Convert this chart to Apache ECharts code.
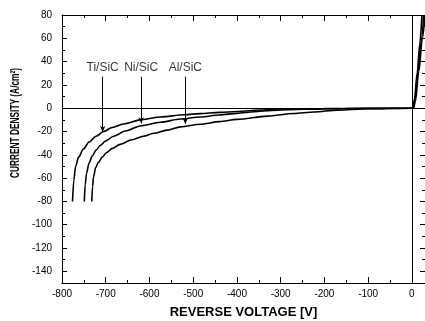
<!DOCTYPE html>
<html>
<head>
<meta charset="utf-8">
<script src="https://cdn.jsdelivr.net/npm/echarts@6/dist/echarts.min.js"></script>
<style>
  html, body { margin: 0; padding: 0; background: #fff; }
  #chart { width: 425px; height: 321px; }
</style>
</head>
<body>
<div id="chart"></div>
<script>
const FONT = '"Liberation Sans", Arial, sans-serif'

// reverse + forward branches, [voltage, current density]
const tiSiC = [
  [-776, -80], [-773, -62], [-769, -50], [-762, -42], [-751, -35], [-738, -29],
  [-722, -24], [-705, -20], [-685, -16.5], [-660, -13.5], [-617, -9.8], [-575, -7.5],
  [-520, -5.6], [-484, -4.6], [-440, -3.6], [-400, -2.8], [-346, -1.5], [-300, -0.7],
  [-200, -0.3], [-100, -0.1], [0, 0], [3, 0.5], [6, 8], [12, 30], [18, 55], [23, 80]
]
const niSiC = [
  [-749, -80], [-747, -66], [-744, -56], [-738, -47], [-731, -41], [-722, -36],
  [-713, -32], [-700, -28], [-682, -24], [-655, -19.5], [-619, -15], [-575, -12],
  [-529, -9.3], [-484, -7.5], [-440, -5.8], [-400, -4.4], [-360, -3], [-320, -1.9],
  [-250, -0.8], [-150, -0.3], [0, 0], [3, 0.3], [7, 8], [14, 32], [21, 57], [27, 80]
]
const alSiC = [
  [-732, -80], [-730, -67], [-728, -59], [-723, -51], [-717, -46.5], [-708, -42],
  [-698, -38], [-685, -34.5], [-667, -31], [-640, -27], [-614, -24], [-590, -21.5],
  [-560, -18.8], [-529, -16], [-484, -13.8], [-440, -11.5], [-400, -9.6], [-330, -6.8],
  [-270, -4.5], [-224, -3.2], [-170, -1.6], [-100, -0.5], [0, 0], [4, 0.3], [8, 6],
  [16, 32], [24, 60], [30, 80]
]

const seriesNames = ['Ti/SiC', 'Ni/SiC', 'Al/SiC']
const seriesData = [tiSiC, niSiC, alSiC]

// label anchor voltage, arrow start / tip current density
const labelX = [-707, -619, -518]
const labelY = 35
const arrowFromY = 27
const arrowToY = [-20.5, -13, -13.5]

// major tick positions
const xMajor = [-800, -700, -600, -500, -400, -300, -200, -100, 0]
const yMajor = [-140, -120, -100, -80, -60, -40, -20, 0, 20, 40, 60, 80]

const xTitle = 'REVERSE VOLTAGE [V]'
const yTitle = 'CURRENT DENSITY (A/cm²)'

const chart = echarts.init(document.getElementById('chart'))

const lineSeries = seriesData.map((d, i) => ({
  name: seriesNames[i],
  type: 'line',
  data: d,
  showSymbol: false,
  smooth: 0.3,
  smoothMonotone: 'x',
  lineStyle: { color: '#000', width: 1.6 },
  z: 3
}))

const labelSeries = {
  type: 'scatter',
  symbolSize: 0,
  data: labelX.map((x, i) => ({ value: [x, labelY], name: seriesNames[i] })),
  label: {
    show: true,
    position: 'inside',
    formatter: p => p.name,
    color: '#000',
    fontFamily: FONT,
    fontSize: 12
  },
  silent: true,
  markLine: {
    silent: true,
    symbol: ['none', 'arrow'],
    symbolSize: [4, 6],
    label: { show: false },
    lineStyle: { color: '#000', width: 1, type: 'solid' },
    data: labelX.map((x, i) => [
      { coord: [x, arrowFromY] },
      { coord: [x, arrowToY[i]] }
    ])
  }
}

const zeroLines = {
  type: 'line',
  data: [],
  markLine: {
    silent: true,
    symbol: 'none',
    label: { show: false },
    lineStyle: { color: '#000', width: 1, type: 'solid' },
    data: [{ xAxis: 0 }, { yAxis: 0 }]
  }
}

const tickLabel = { color: '#000', fontFamily: FONT, fontSize: 10 }
const axisLine = { show: true, onZero: false, lineStyle: { color: '#000', width: 1 } }

// minor-tick axis (with line) and a major-tick overlay on the same side
function xAxisPair(position, withLabels) {
  return [
    {
      type: 'value', min: -800, max: 30, interval: 50, position,
      axisLine,
      axisTick: { inside: true, length: 3, lineStyle: { color: '#000' } },
      axisLabel: withLabels
        ? Object.assign({ margin: 6, formatter: v => (v % 100 === 0 ? String(v) : '') }, tickLabel)
        : { show: false },
      splitLine: { show: false },
      name: withLabels ? xTitle : '',
      nameLocation: 'middle',
      nameGap: 23,
      nameTextStyle: { color: '#000', fontFamily: FONT, fontSize: 13, fontWeight: 'bold' }
    },
    {
      type: 'value', min: -800, max: 30, position,
      axisLine: { show: false, onZero: false },
      axisTick: { inside: true, length: 6, customValues: xMajor, lineStyle: { color: '#000' } },
      axisLabel: { show: false },
      splitLine: { show: false }
    }
  ]
}

function yAxisPair(position, withLabels) {
  return [
    {
      type: 'value', min: -150, max: 80, interval: 10, position,
      axisLine,
      axisTick: { inside: true, length: 3, lineStyle: { color: '#000' } },
      axisLabel: withLabels
        ? Object.assign({ margin: 10, formatter: v => (v % 20 === 0 ? String(v) : '') }, tickLabel)
        : { show: false },
      splitLine: { show: false }
    },
    {
      type: 'value', min: -150, max: 80, position,
      axisLine: { show: false, onZero: false },
      axisTick: { inside: true, length: 5, customValues: yMajor, lineStyle: { color: '#000' } },
      axisLabel: { show: false },
      splitLine: { show: false }
    }
  ]
}

chart.setOption({
  animation: false,
  backgroundColor: '#fff',
  grid: { left: 62, right: 0, top: 15, bottom: 38, outerBoundsMode: 'none' },
  xAxis: xAxisPair('bottom', true).concat(xAxisPair('top', false)),
  yAxis: yAxisPair('left', true).concat(yAxisPair('right', false)),
  graphic: [{
    type: 'text',
    x: 15,
    y: 123,
    rotation: Math.PI / 2,
    scaleX: 0.64,
    style: {
      text: yTitle,
      fill: '#000',
      font: 'bold 13px ' + FONT,
      align: 'center',
      verticalAlign: 'middle'
    }
  }],
  series: [zeroLines].concat(lineSeries, [labelSeries])
})
</script>
</body>
</html>
